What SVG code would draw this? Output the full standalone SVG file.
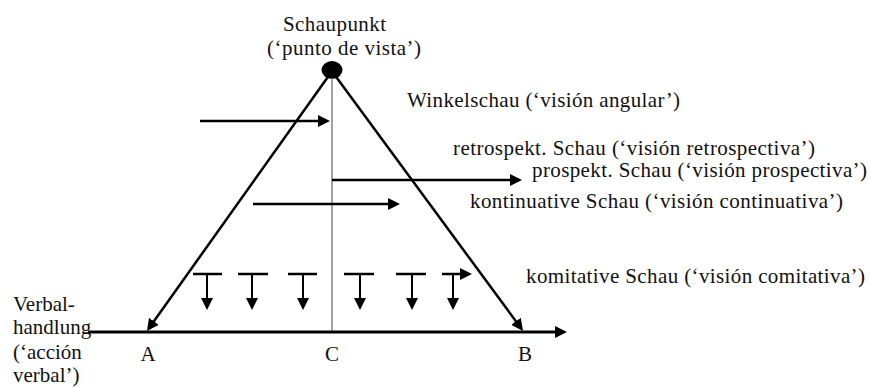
<svg xmlns="http://www.w3.org/2000/svg" width="870" height="388" viewBox="0 0 870 388">
<defs>
<marker id="ah" markerUnits="userSpaceOnUse" markerWidth="13" markerHeight="12" refX="4" refY="6" orient="auto" viewBox="0 0 13 12">
<path d="M0,0 L12,6 L0,12 z" fill="#000"/>
</marker>
<style>
.t{font-size:21px;fill:#111;}
.mid{text-anchor:middle;}
.arr{stroke:#000;stroke-width:2.5;fill:none;marker-end:url(#ah);}
.stem{stroke:#000;stroke-width:2;fill:none;marker-end:url(#ah);}
.bar{stroke:#000;stroke-width:2.5;}
</style>
</defs>
<rect width="870" height="388" fill="#fff"/>

<g font-family="Liberation Serif, Times New Roman, serif">
<g id="schaupunkt">
<ellipse cx="332" cy="70" rx="10.5" ry="9" fill="#000"/>
<text class="t mid" x="334.5" y="31" textLength="103">Schaupunkt</text>
<text class="t mid" x="344" y="55" textLength="154">(‘punto de vista’)</text>
</g>

<g id="verbalhandlung">
<text class="t" x="13" y="311">Verbal-</text>
<text class="t" x="13" y="334">handlung</text>
<text class="t" x="13" y="359">(‘acción</text>
<text class="t" x="13" y="382">verbal’)</text>
</g>

<g id="points">
<text class="t mid" x="148" y="361">A</text>
<text class="t mid" x="332" y="361">C</text>
<text class="t mid" x="525" y="361">B</text>
</g>

<g id="labels">
<text class="t" x="407" y="107" textLength="273">Winkelschau (‘visión angular’)</text>
<text class="t" x="453" y="155" textLength="362">retrospekt. Schau (‘visión retrospectiva’)</text>
<text class="t" x="532" y="177" textLength="335">prospekt. Schau (‘visión prospectiva’)</text>
<text class="t" x="470" y="208" textLength="373">kontinuative Schau (‘visión continuativa’)</text>
<text class="t" x="526" y="283" textLength="339">komitative Schau (‘visión comitativa’)</text>
</g>
</g>

<g id="connectors">
<line x1="332" y1="78" x2="332" y2="332" stroke="#888" stroke-width="1.6"/>
<line x1="88" y1="332" x2="559" y2="332" stroke="#000" stroke-width="3" marker-end="url(#ah)"/>
<line class="arr" x1="330" y1="74" x2="151.6" y2="324.5"/>
<line class="arr" x1="334" y1="74" x2="518.3" y2="324.5"/>
<line class="arr" x1="200" y1="121" x2="322" y2="121"/>
<line class="arr" x1="332" y1="180" x2="514" y2="180"/>
<line class="arr" x1="253" y1="204" x2="392" y2="204"/>
<g id="komitative-arrows">
<line class="bar" x1="193" y1="274" x2="222" y2="274"/>
<line class="stem" x1="207" y1="274" x2="207" y2="302"/>
<line class="bar" x1="238" y1="274" x2="268" y2="274"/>
<line class="stem" x1="252" y1="274" x2="252" y2="302"/>
<line class="bar" x1="288" y1="274" x2="317" y2="274"/>
<line class="stem" x1="303" y1="274" x2="303" y2="302"/>
<line class="bar" x1="344" y1="274" x2="374" y2="274" stroke-width="1.6"/>
<line class="stem" x1="360" y1="274" x2="360" y2="302"/>
<line class="bar" x1="396" y1="274" x2="426" y2="274"/>
<line class="stem" x1="412" y1="274" x2="412" y2="302"/>
<line class="arr" x1="442" y1="274" x2="464" y2="274"/>
<line class="stem" x1="453" y1="274" x2="453" y2="302"/>
</g>
</g>
</svg>
